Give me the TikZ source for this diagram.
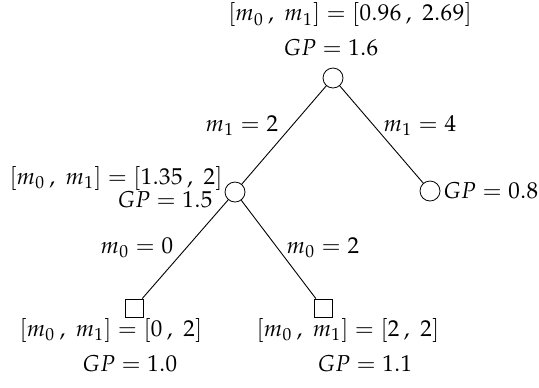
\documentclass[tikz,border=0pt]{standalone}
\usepackage{mathpple}
\begin{document}
\begin{tikzpicture}[x=0.5pt,y=-0.5pt,
  circ/.style={circle,draw,inner sep=0pt,minimum size=10pt},
  sq/.style={rectangle,draw,inner sep=0pt,minimum size=9pt},
  lbl/.style={inner sep=0pt,font=\fontsize{11.5}{14}\selectfont},
  edge/.style={draw,line width=0.45pt}]
\useasboundingbox (0,0) rectangle (539,387);
\node[circ] (r) at (333,78) {};
\node[circ] (a) at (235,192) {};
\node[circ] (b) at (430,191) {};
\node[sq] (c) at (134,308) {};
\node[sq] (d) at (323,308) {};
\draw[edge] (r) -- (a);
\draw[edge] (r) -- (b);
\draw[edge] (a) -- (c);
\draw[edge] (a) -- (d);
\node[lbl] (t1) at (350,15) {$[m_0\,,\;m_1]=[0.96\,,\;2.69]$};
\node[lbl] (t2) at (331,48) {$GP=1.6$};
\node[lbl,anchor=east] (a1) at (223,178) {$[m_0\,,\;m_1]=[1.35\,,\;2]$};
\node[lbl,anchor=east] (a2) at (213,200) {$GP=1.5$};
\node[lbl,anchor=west] (b1) at (443,191) {$GP=0.8$};
\node[lbl] (c1) at (111,330) {$[m_0\,,\;m_1]=[0\,,\;2]$};
\node[lbl] (c2) at (130,364) {$GP=1.0$};
\node[lbl] (d1) at (348,330) {$[m_0\,,\;m_1]=[2\,,\;2]$};
\node[lbl] (d2) at (365,364) {$GP=1.1$};
\node[lbl] (e1) at (242,126) {$m_1=2$};
\node[lbl] (e2) at (420,126) {$m_1=4$};
\node[lbl] (e3) at (137,248) {$m_0=0$};
\node[lbl] (e4) at (323,248) {$m_0=2$};
\end{tikzpicture}
\end{document}
